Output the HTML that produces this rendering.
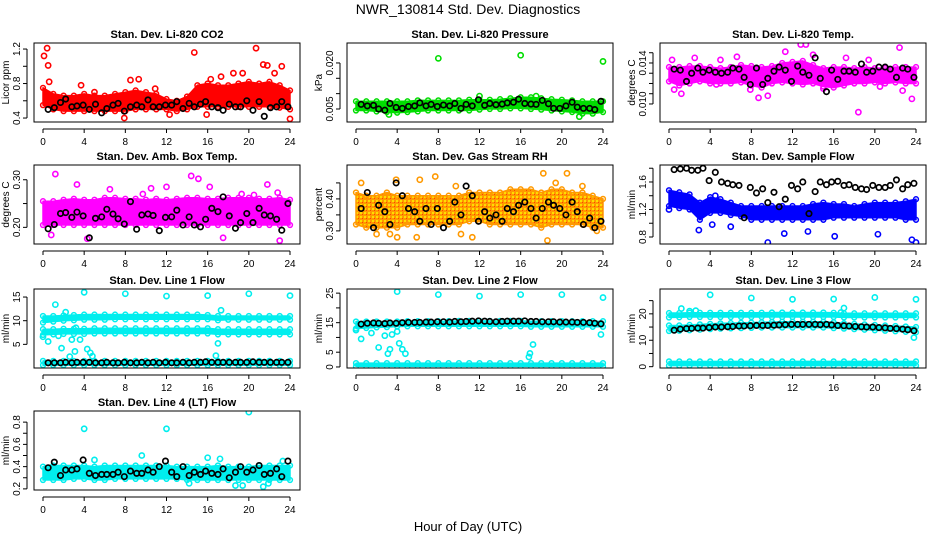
<!DOCTYPE html>
<html><head><meta charset="utf-8"><style>
html,body{margin:0;padding:0;background:#fff;}
svg{display:block;font-family:"Liberation Sans",Arial,sans-serif;}
</style></head><body>
<svg id="chart" width="936" height="540" viewBox="0 0 936 540" xmlns="http://www.w3.org/2000/svg">
<defs>
<pattern id="rhPat" width="4" height="4" patternUnits="userSpaceOnUse">
<rect width="4" height="4" fill="#ff9900"/>
<rect x="0" y="0" width="2" height="2" fill="#ffdd00"/>
<rect x="2" y="2" width="1" height="1" fill="#ff4400"/>
</pattern>
</defs>
<text x="468" y="14" text-anchor="middle" font-size="14">NWR_130814 Std. Dev. Diagnostics</text>
<text x="468" y="531" text-anchor="middle" font-size="13">Hour of Day (UTC)</text>
<g id="plots"></g>
</svg>
<script>
const xTicks = [0,4,8,12,16,20,24];
const bandHours = [0,1,2,3,4,5,6,7,8,9,10,11,12,13,14,15,16,17,18,19,20,21,22,23,24];
const blackHours = [0.5,1.1,1.7,2.2,2.8,3.3,3.9,4.5,5.1,5.7,6.2,6.8,7.3,7.9,8.5,9.1,9.6,10.2,10.7,11.3,11.9,12.5,13,13.6,14.2,14.7,15.3,15.8,16.4,17,17.5,18.1,18.7,19.2,19.8,20.4,21,21.5,22.1,22.7,23.2,23.8];

const co2Lo = [0.55,0.5,0.48,0.48,0.48,0.48,0.48,0.48,0.48,0.5,0.5,0.5,0.5,0.48,0.5,0.53,0.53,0.53,0.53,0.53,0.53,0.53,0.53,0.52,0.5];
const co2Hi = [0.75,0.68,0.66,0.66,0.68,0.66,0.66,0.68,0.7,0.72,0.7,0.68,0.62,0.6,0.65,0.78,0.8,0.78,0.78,0.8,0.82,0.8,0.82,0.78,0.72];
const co2Black = [0.5,0.52,0.58,0.62,0.53,0.54,0.55,0.5,0.56,0.46,0.51,0.55,0.57,0.48,0.53,0.55,0.53,0.61,0.53,0.53,0.55,0.55,0.59,0.51,0.57,0.53,0.56,0.59,0.53,0.52,0.49,0.56,0.53,0.53,0.6,0.49,0.59,0.42,0.52,0.53,0.59,0.53];
const co2Out = [[0.1,1.12],[0.4,1.21],[0.5,1.01],[14.7,1.16],[15.9,0.44],[20.7,1.21],[21.4,1.02],[21.8,1.01],[23.2,1.0],[24,0.39],[7.9,0.4],[12.3,0.44],[0.6,0.82],[3.7,0.78],[9.3,0.85],[18.5,0.92],[19.4,0.92],[22.5,0.92],[8.5,0.84],[16.3,0.85],[17.3,0.88],[5,0.7],[10.9,0.74]];

const prLo = [0.0045,0.0045,0.0042,0.004,0.0038,0.004,0.0042,0.0045,0.0045,0.0045,0.0045,0.0045,0.0048,0.005,0.005,0.0052,0.0052,0.005,0.0048,0.0045,0.0042,0.004,0.0035,0.0035,0.004];
const prHi = [0.0075,0.0075,0.0075,0.0075,0.0075,0.0075,0.0078,0.0078,0.0078,0.0078,0.0078,0.008,0.008,0.008,0.0082,0.0085,0.0088,0.0088,0.0085,0.0082,0.008,0.0078,0.0075,0.0075,0.0075];
const prBlack = [0.0065,0.006,0.0062,0.005,0.0046,0.0068,0.0055,0.0052,0.0058,0.006,0.007,0.006,0.0065,0.0058,0.0063,0.006,0.0068,0.0052,0.0065,0.006,0.008,0.0062,0.0068,0.0064,0.0066,0.007,0.0072,0.0082,0.0068,0.0066,0.0065,0.0078,0.0067,0.0052,0.0052,0.006,0.0072,0.0056,0.0052,0.0052,0.0048,0.0075];
const prOut = [[8,0.0215],[16,0.0225],[24,0.0205],[21.7,0.0025],[12,0.0092],[17.5,0.0092],[3.2,0.0032],[15.8,0.0062]];

const tpLo = [0.0122,0.0118,0.012,0.0122,0.012,0.012,0.012,0.0121,0.0118,0.0116,0.012,0.0121,0.012,0.0119,0.012,0.0117,0.0116,0.0118,0.012,0.012,0.0121,0.012,0.0121,0.012,0.012];
const tpHi = [0.0136,0.0136,0.0137,0.0137,0.0136,0.0135,0.0136,0.0138,0.0137,0.0136,0.0137,0.014,0.0141,0.0142,0.0138,0.0135,0.0136,0.0136,0.0135,0.0136,0.0135,0.0135,0.0136,0.0136,0.0136];
const tpBlack = [0.0134,0.0133,0.0122,0.013,0.0135,0.0131,0.0133,0.0131,0.013,0.0131,0.0135,0.0134,0.0126,0.0119,0.0135,0.0119,0.0125,0.0132,0.0136,0.0133,0.0122,0.0137,0.0131,0.0128,0.0145,0.0125,0.0112,0.0133,0.0124,0.0132,0.0132,0.0131,0.0139,0.0131,0.0132,0.0136,0.0136,0.0134,0.0126,0.0135,0.0134,0.0126];
const tpOut = [[0.3,0.0143],[0.5,0.0114],[2.5,0.0145],[5,0.0143],[8.7,0.0106],[9.6,0.0108],[11.3,0.0151],[12.8,0.0158],[13.3,0.0158],[15,0.0115],[17.2,0.0145],[18.4,0.0092],[19.4,0.0143],[22.4,0.0155],[23.6,0.0105],[1.2,0.011],[6.6,0.0146],[14,0.0148],[20.5,0.0117],[22.7,0.0113],[4.6,0.0119],[7.9,0.0114]];

const abLo = [0.205,0.205,0.205,0.205,0.205,0.205,0.205,0.205,0.205,0.205,0.205,0.205,0.205,0.205,0.205,0.205,0.205,0.205,0.205,0.205,0.205,0.205,0.205,0.205,0.205];
const abHi = [0.255,0.255,0.258,0.26,0.258,0.258,0.262,0.262,0.26,0.26,0.258,0.26,0.258,0.26,0.262,0.262,0.26,0.26,0.262,0.262,0.262,0.26,0.26,0.262,0.258];
const abBlack = [0.197,0.206,0.229,0.231,0.221,0.232,0.224,0.178,0.219,0.222,0.238,0.228,0.218,0.207,0.254,0.196,0.226,0.228,0.225,0.193,0.221,0.222,0.236,0.205,0.222,0.205,0.201,0.217,0.24,0.233,0.264,0.224,0.198,0.21,0.229,0.21,0.24,0.226,0.224,0.217,0.194,0.25];
const abOut = [[1.2,0.312],[3.3,0.29],[4.3,0.176],[6.5,0.28],[10.5,0.282],[12,0.285],[14.4,0.308],[15.1,0.302],[19.3,0.27],[22.8,0.273],[23,0.172],[17.5,0.178],[0.8,0.184],[20.5,0.268],[9.7,0.27],[16.2,0.285],[21.8,0.29]];

const rhLo = [0.32,0.31,0.31,0.31,0.31,0.32,0.32,0.32,0.32,0.32,0.32,0.33,0.33,0.32,0.32,0.32,0.32,0.32,0.31,0.32,0.32,0.32,0.32,0.31,0.31];
const rhHi = [0.42,0.41,0.41,0.42,0.41,0.41,0.41,0.41,0.41,0.41,0.41,0.42,0.42,0.42,0.42,0.43,0.43,0.43,0.42,0.43,0.43,0.42,0.42,0.41,0.4];
const rhBlack = [0.37,0.42,0.31,0.38,0.36,0.32,0.45,0.41,0.37,0.36,0.33,0.37,0.32,0.37,0.31,0.33,0.39,0.35,0.44,0.41,0.33,0.36,0.34,0.35,0.33,0.37,0.36,0.38,0.39,0.37,0.34,0.37,0.39,0.38,0.37,0.35,0.39,0.36,0.32,0.34,0.31,0.33];
const rhOut = [[0.5,0.45],[3.9,0.46],[6.2,0.46],[7.7,0.47],[9.7,0.44],[18.2,0.48],[20.5,0.48],[19.4,0.45],[22,0.44],[5.9,0.28],[11.3,0.28],[18.6,0.27],[3.3,0.29],[4,0.28],[10.2,0.29],[23.4,0.3],[2,0.29]];

const sfLo = [1.25,1.22,1.2,1.05,1.15,1.15,1.12,1.1,1.05,1.05,1.05,1.05,1.05,1.05,1.05,1.05,1.08,1.08,1.08,1.08,1.08,1.08,1.08,1.05,1.05];
const sfHi = [1.48,1.45,1.42,1.3,1.38,1.35,1.3,1.25,1.25,1.25,1.25,1.25,1.25,1.25,1.28,1.3,1.28,1.28,1.25,1.28,1.3,1.3,1.3,1.32,1.35];
const sfBlack = [1.78,1.79,1.8,1.77,1.77,1.8,1.62,1.74,1.6,1.58,1.56,1.55,1.08,1.52,1.44,1.5,1.3,1.45,1.24,1.35,1.55,1.5,1.6,1.14,1.46,1.6,1.56,1.6,1.61,1.55,1.56,1.52,1.5,1.49,1.55,1.52,1.52,1.55,1.63,1.5,1.56,1.58];
const sfOut = [[4.2,0.98],[9.6,0.72],[16.1,0.81],[20.3,0.84],[24,0.72],[23.6,0.76],[2.9,0.9],[11.2,0.85],[0,1.2],[13.5,0.88],[6,0.95],[4.5,1.4]];

const l1aLo = [9.6,9.8,10,10.1,10.2,10.2,10.2,10.3,10.3,10.3,10.3,10.3,10.3,10.3,10.3,10.3,10.3,10.1,10.2,10.2,10.2,10.2,10.2,10.2,10.2];
const l1aHi = [11,11,11.1,11.2,11.3,11.3,11.3,11.3,11.3,11.3,11.3,11.3,11.3,11.3,11.3,11.3,11.2,11,11,11,11,11,11,11,11];
const l1bLo = [7,7.1,7.2,7.2,7.2,7.3,7.3,7.3,7.3,7.3,7.3,7.3,7.3,7.3,7.3,7.3,7.3,7.1,7.1,7.1,7.1,7.1,7.1,7.1,7.1];
const l1bHi = [8.2,8.2,8.3,8.3,8.3,8.4,8.4,8.4,8.4,8.4,8.4,8.4,8.4,8.4,8.4,8.4,8.4,8.2,8.2,8.2,8.2,8.2,8.2,8.2,8.2];
const l1cLo = [0.6,0.6,0.6,0.6,0.6,0.6,0.6,0.6,0.6,0.6,0.6,0.6,0.6,0.6,0.6,0.6,0.6,0.6,0.6,0.6,0.6,0.6,0.6,0.6,0.6];
const l1cHi = [1.5,1.5,1.5,1.5,1.5,1.5,1.5,1.5,1.5,1.5,1.5,1.5,1.5,1.5,1.5,1.5,1.5,1.5,1.5,1.5,1.5,1.5,1.5,1.5,1.5];
const l1Black = [1.1,1.1,1.1,1.2,1.1,1.2,1.2,1.2,1.1,1.1,1.2,1.1,1.1,1.2,1.1,1.1,1.2,1.1,1.2,1.1,1.2,1.1,1.1,1.2,1.1,1.2,1.2,1.3,1.2,1.2,1.2,1.2,1.2,1.2,1.2,1.3,1.2,1.2,1.2,1.2,1.2,1.2];
const l1Out = [[4,16],[8,15.7],[12,15.2],[16,15.3],[20,15.7],[24,15.3],[1.2,13.4],[2.2,11.8],[1.8,4.2],[2.6,2.4],[3.1,3.5],[3.6,6],[4.3,4],[4.6,3.2],[4.8,2.5],[0,6.6],[0.5,5.6],[17,5.2],[16.8,2.6],[17.3,12.2],[0.2,7.6],[1.5,6.8],[3.2,8.5],[2.8,6]];

const l2aLo = [13,13.2,13.4,13.5,13.7,13.8,13.8,13.8,13.8,13.8,13.8,13.8,13.8,13.8,13.8,13.8,13.8,13.6,13.6,13.6,13.6,13.6,13.6,13.6,13.6];
const l2aHi = [15.4,15.4,15.4,15.4,15.4,15.5,15.5,15.5,15.5,15.5,15.6,15.6,15.6,15.6,15.6,15.6,15.6,15.5,15.5,15.5,15.5,15.5,15.5,15.5,15.5];
const l2bLo = [0.2,0.2,0.2,0.2,0.2,0.2,0.2,0.2,0.2,0.2,0.2,0.2,0.2,0.2,0.2,0.2,0.2,0.2,0.2,0.2,0.2,0.2,0.2,0.2,0.2];
const l2bHi = [1.3,1.3,1.3,1.3,1.3,1.3,1.3,1.3,1.3,1.3,1.3,1.3,1.3,1.3,1.3,1.3,1.3,1.3,1.3,1.3,1.3,1.3,1.3,1.3,1.3];
const l2Black = [14.5,14.8,14.9,14.8,14.7,14.9,14.8,15,15.1,15.1,15.1,15.2,15.2,15.3,15.3,15.2,15.4,15.3,15.4,15.5,15.6,15.5,15.4,15.3,15.4,15.5,15.5,15.5,15.6,15.4,15.4,15.3,15.3,15.3,15.2,15.2,15.2,15.1,15.1,15,14.8,14.6];
const l2Out = [[4,25.5],[8,24.5],[12,24],[16,24.5],[20,24.5],[24,23.5],[0,12.5],[0.5,9.5],[1.5,11.5],[2.2,6.6],[2.8,10.6],[3.1,4.5],[3.3,6],[3.5,11],[4,12],[4.2,8],[4.5,6],[4.8,4.5],[16.8,3.4],[16.9,4.6],[17.2,7.6],[23.8,11]];

const l3aLo = [18.6,18.7,18.8,18.8,18.8,18.8,18.8,18.8,18.8,18.8,18.8,18.8,18.8,18.8,18.8,18.8,18.8,18.6,18.6,18.6,18.6,18.6,18.6,18.6,18.6];
const l3aHi = [20.3,20.3,20.4,20.4,20.4,20.4,20.4,20.4,20.4,20.4,20.5,20.5,20.5,20.5,20.5,20.5,20.4,20.2,20.2,20.2,20.2,20.2,20.2,20.2,20.2];
const l3bLo = [13.5,13.6,13.8,14,14.2,14.4,14.5,14.6,14.7,14.8,14.8,14.8,14.8,14.8,14.8,14.8,14.6,14.4,14.2,14,13.8,13.6,13.4,13.2,13];
const l3bHi = [15.6,15.6,15.8,16,16.2,16.4,16.5,16.6,16.7,16.8,16.9,17,17,17,17,17,16.8,16.4,16.2,16,15.8,15.6,15.4,15.2,15];
const l3cLo = [0.4,0.4,0.4,0.4,0.4,0.4,0.4,0.4,0.4,0.4,0.4,0.4,0.4,0.4,0.4,0.4,0.4,0.4,0.4,0.4,0.4,0.4,0.4,0.4,0.4];
const l3cHi = [2,2,2,2,2,2,2,2,2,2,2,2,2,2,2,2,2,2,2,2,2,2,2,2,2];
const l3Black = [13.8,14.2,14.4,14.5,14.6,14.6,14.8,15,15,15.1,15.2,15.4,15.4,15.5,15.6,15.6,15.6,15.7,15.8,15.9,16,16,16,16,16,15.9,16,15.8,15.6,15.5,15.4,15.2,15.1,15,15,14.8,14.7,14.5,14.4,14.2,14,13.6];
const l3Out = [[4,27.2],[8,26],[12,25.5],[16,25.6],[20,26.2],[24,25.5],[1.2,22],[2,21],[2.6,21.2],[17,22.2],[16.7,20.5],[23.8,11]];

const l4Lo = [0.28,0.28,0.28,0.29,0.29,0.28,0.28,0.29,0.29,0.29,0.29,0.29,0.29,0.29,0.28,0.28,0.28,0.28,0.28,0.28,0.28,0.28,0.28,0.28,0.28];
const l4Hi = [0.4,0.41,0.41,0.41,0.41,0.4,0.41,0.41,0.41,0.41,0.41,0.41,0.41,0.4,0.4,0.4,0.4,0.41,0.4,0.4,0.4,0.41,0.41,0.41,0.41];
const l4Black = [0.39,0.44,0.32,0.37,0.37,0.38,0.46,0.34,0.32,0.33,0.33,0.33,0.35,0.31,0.36,0.34,0.34,0.37,0.35,0.4,0.45,0.35,0.31,0.4,0.32,0.35,0.33,0.36,0.34,0.33,0.38,0.3,0.35,0.4,0.35,0.37,0.41,0.33,0.34,0.38,0.31,0.45];
const l4Out = [[4,0.74],[12,0.74],[20,0.89],[16,0.48],[18.7,0.23],[19.4,0.23],[21.4,0.22],[21.9,0.25],[9.6,0.5],[5,0.46],[17.2,0.47],[23.3,0.45],[14.2,0.25]];

const panelTitles = ["Stan. Dev. Li-820 CO2","Stan. Dev. Li-820 Pressure","Stan. Dev. Li-820 Temp.","Stan. Dev. Amb. Box Temp.","Stan. Dev. Gas Stream RH","Stan. Dev. Sample Flow","Stan. Dev. Line 1 Flow","Stan. Dev. Line 2 Flow","Stan. Dev. Line 3 Flow","Stan. Dev. Line 4 (LT) Flow"];
const yLabels = ["Licor ppm","kPa","degrees C","degrees C","percent","ml/min","ml/min","ml/min","ml/min","ml/min"];
const yLimits = [[0.354,1.27],[0.00076,0.0265],[0.00824,0.01595],[0.165,0.331],[0.259,0.506],[0.698,1.847],[0,16.7],[-0.35,26.4],[-0.5,29.4],[0.19,0.9]];
const yTickVals = [[0.4,0.6,0.8,1.0,1.2],[0.005,0.010,0.015,0.020],[0.010,0.011,0.012,0.013,0.014,0.015],[0.20,0.25,0.30],[0.30,0.35,0.40,0.45],[0.8,1.0,1.2,1.4,1.6,1.8],[5,10,15],[0,5,10,15,20,25],[0,5,10,15,20,25],[0.2,0.3,0.4,0.5,0.6,0.7,0.8]];
const yTickLabels = [["0.4","","0.8","","1.2"],["0.005","","","0.020"],["0.010","","","","0.014",""],["0.20","","0.30"],["0.30","","0.40",""],["0.8","","1.2","","1.6",""],["5","10","15"],["0","5","","15","","25"],["0","","10","","20",""],["0.2","","0.4","","0.6","","0.8"]];
const colors = ["#ff0000","#00dd00","#ff00ff","#ff00ff","#ff9900","#0000ff","#00eeee","#00eeee","#00eeee","#00eeee"];
const fills = ["#ff0000","#00dd00","#ff00ff","#ff00ff","url(#rhPat)","#0000ff","#00eeee","#00eeee","#00eeee","#00eeee"];
const bandSets = [[[co2Lo,co2Hi]],[[prLo,prHi]],[[tpLo,tpHi]],[[abLo,abHi]],[[rhLo,rhHi]],[[sfLo,sfHi]],[[l1aLo,l1aHi],[l1bLo,l1bHi],[l1cLo,l1cHi]],[[l2aLo,l2aHi],[l2bLo,l2bHi]],[[l3aLo,l3aHi],[l3bLo,l3bHi],[l3cLo,l3cHi]],[[l4Lo,l4Hi]]];
const blackSets = [co2Black,prBlack,tpBlack,abBlack,rhBlack,sfBlack,l1Black,l2Black,l3Black,l4Black];
const outSets = [co2Out,prOut,tpOut,abOut,rhOut,sfOut,l1Out,l2Out,l3Out,l4Out];

const NS = "http://www.w3.org/2000/svg";
const root = document.getElementById("plots");
const rowTops = [43,165,289,411];
const boxH = 79;
function mk(tag, attrs, parent){
  const e = document.createElementNS(NS, tag);
  for (const k in attrs) e.setAttribute(k, attrs[k]);
  parent.appendChild(e);
  return e;
}
function slug(s){return s.toLowerCase().replace(/[^a-z0-9]+/g,'-').replace(/^-|-$/g,'');}

panelTitles.forEach((title, i) => {
  const col = i % 3, row = Math.floor(i / 3);
  const x0 = 43 + 313*col, x24 = 290 + 313*col;
  const top = rowTops[row], bot = top + boxH;
  const boxL = x0 - 9, boxR = x24 + 10;
  const xs = h => x0 + (x24 - x0) * h / 24;
  const [ymin, ymax] = yLimits[i];
  const ys = v => bot - (v - ymin) / (ymax - ymin) * boxH;
  const g = mk("g", {}, root);
  
  

  const clipId = "clip" + i;
  const cp = mk("clipPath", {id: clipId}, g);
  mk("rect", {x: boxL, y: top, width: boxR-boxL, height: boxH}, cp);
  const marks = mk("g", {"clip-path": "url(#" + clipId + ")"}, g);
  const c = colors[i];

  bandSets[i].forEach(pair => {
    const lo = pair[0], hi = pair[1];
    let d = "";
    bandHours.forEach((h, k) => { d += (k ? "L" : "M") + xs(h).toFixed(1) + "," + ys(hi[k]).toFixed(1); });
    for (let k = bandHours.length - 1; k >= 0; k--) d += "L" + xs(bandHours[k]).toFixed(1) + "," + ys(lo[k]).toFixed(1);
    const p = mk("path", {d: d + "Z", fill: fills[i], stroke: c, "stroke-width": 1.5, "stroke-linejoin": "round"}, marks);
    
    
    bandHours.forEach((h, k) => {
      [hi[k], lo[k]].forEach(v => {
        const ci = mk("circle", {cx: xs(h), cy: ys(v), r: 2.4, fill: "none", stroke: c, "stroke-width": 1.5}, marks);
        
        
      });
    });
  });
  outSets[i].forEach(pt => {
    const ci = mk("circle", {cx: xs(pt[0]), cy: ys(pt[1]), r: 2.6, fill: "none", stroke: c, "stroke-width": 1.6}, marks);
    
    
  });
  blackSets[i].forEach((v, k) => {
    const ci = mk("circle", {cx: xs(blackHours[k]), cy: ys(v), r: 2.7, fill: "none", stroke: "#000", "stroke-width": 1.7}, marks);
    
    
  });

  const frame = mk("rect", {x: boxL, y: top, width: boxR-boxL, height: boxH, fill: "none", stroke: "#000", "stroke-width": 1}, g);
  
  

  const t = mk("text", {x: (boxL+boxR)/2, y: top - 5, "text-anchor": "middle", "font-size": 11, "font-weight": "bold"}, g);
  t.textContent = title;
  
  

  mk("line", {x1: x0, x2: x24, y1: bot + 7, y2: bot + 7, stroke: "#000"}, g);
  xTicks.forEach(h => {
    mk("line", {x1: xs(h), x2: xs(h), y1: bot + 7, y2: bot + 11, stroke: "#000"}, g);
    const tl = mk("text", {x: xs(h), y: bot + 23, "text-anchor": "middle", "font-size": 10}, g);
    tl.textContent = h;
    
    
  });
  const tv = yTickVals[i];
  mk("line", {x1: boxL - 7, x2: boxL - 7, y1: ys(tv[0]), y2: ys(tv[tv.length-1]), stroke: "#000"}, g);
  tv.forEach((v, k) => {
    const yy = ys(v);
    mk("line", {x1: boxL - 11, x2: boxL - 7, y1: yy, y2: yy, stroke: "#000"}, g);
    const lab = yTickLabels[i][k];
    if (lab) {
      const yl = mk("text", {x: boxL - 14, y: yy, "text-anchor": "middle", "font-size": 10, transform: "rotate(-90 " + (boxL - 14) + " " + yy + ")"}, g);
      yl.textContent = lab;
      
      
    }
  });
  const ym = (top + bot) / 2;
  const yt = mk("text", {x: boxL - 25, y: ym, "text-anchor": "middle", "font-size": 10, transform: "rotate(-90 " + (boxL - 25) + " " + ym + ")"}, g);
  yt.textContent = yLabels[i];
  
  
});
</script>
</body></html>
